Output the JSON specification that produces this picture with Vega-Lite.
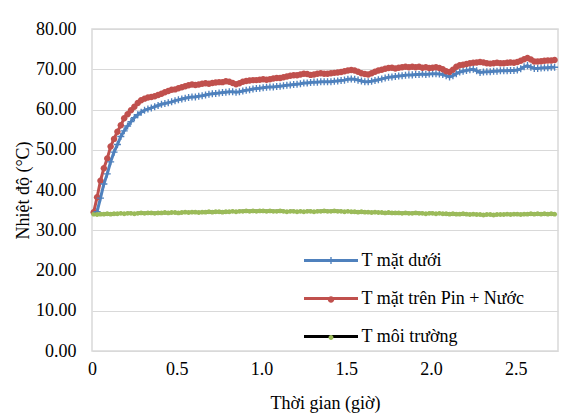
{
  "$schema": "https://vega.github.io/schema/vega-lite/v6.json",
  "width": 466,
  "height": 322,
  "autosize": "none",
  "padding": {"left": 92, "top": 29, "right": 28, "bottom": 66},
  "background": "white",
  "config": {
    "font": "Liberation Serif",
    "view": {"stroke": "#D9D9D9", "strokeWidth": 1.5},
    "axis": {
      "labelFont": "Liberation Serif",
      "titleFont": "Liberation Serif",
      "labelFontSize": 18,
      "titleFontSize": 18,
      "labelColor": "#000000",
      "titleColor": "#000000",
      "titleFontWeight": "normal",
      "labelFlush": false,
      "domain": false,
      "ticks": false,
      "gridColor": "#D9D9D9",
      "gridWidth": 1.2
    },
    "legend": {
      "labelFont": "Liberation Serif",
      "labelFontSize": 18,
      "labelColor": "#000000",
      "labelLimit": 400
    }
  },
  "data": {
    "values": [
      {"t":0.01,"a":null,"b":34.5,"c":34.0},
      {"t":0.03,"a":34.6,"b":38.2,"c":33.9},
      {"t":0.05,"a":38.0,"b":42.3,"c":34.0},
      {"t":0.07,"a":41.5,"b":45.4,"c":34.0},
      {"t":0.09,"a":44.0,"b":47.8,"c":34.1},
      {"t":0.11,"a":47.0,"b":50.8,"c":34.0},
      {"t":0.13,"a":49.4,"b":52.7,"c":34.1},
      {"t":0.15,"a":51.3,"b":54.5,"c":34.1},
      {"t":0.17,"a":53.3,"b":56.1,"c":34.2},
      {"t":0.19,"a":54.7,"b":57.8,"c":34.1},
      {"t":0.21,"a":55.9,"b":58.8,"c":34.2},
      {"t":0.23,"a":57.0,"b":59.8,"c":34.2},
      {"t":0.25,"a":58.0,"b":60.7,"c":34.1},
      {"t":0.27,"a":58.7,"b":61.6,"c":34.2},
      {"t":0.29,"a":59.3,"b":62.3,"c":34.3},
      {"t":0.31,"a":59.8,"b":62.7,"c":34.2},
      {"t":0.33,"a":60.1,"b":63.0,"c":34.3},
      {"t":0.35,"a":60.4,"b":63.1,"c":34.3},
      {"t":0.37,"a":60.7,"b":63.3,"c":34.2},
      {"t":0.39,"a":61.0,"b":63.6,"c":34.3},
      {"t":0.41,"a":61.3,"b":63.9,"c":34.3},
      {"t":0.43,"a":61.5,"b":64.3,"c":34.4},
      {"t":0.45,"a":61.7,"b":64.6,"c":34.3},
      {"t":0.47,"a":61.9,"b":64.9,"c":34.4},
      {"t":0.49,"a":62.2,"b":65.0,"c":34.4},
      {"t":0.51,"a":62.4,"b":65.3,"c":34.3},
      {"t":0.53,"a":62.6,"b":65.5,"c":34.4},
      {"t":0.55,"a":62.8,"b":65.8,"c":34.5},
      {"t":0.57,"a":63.0,"b":66.0,"c":34.4},
      {"t":0.59,"a":63.1,"b":66.2,"c":34.5},
      {"t":0.61,"a":63.1,"b":66.1,"c":34.5},
      {"t":0.63,"a":63.3,"b":66.2,"c":34.4},
      {"t":0.65,"a":63.4,"b":66.4,"c":34.5},
      {"t":0.67,"a":63.6,"b":66.5,"c":34.5},
      {"t":0.69,"a":63.8,"b":66.4,"c":34.6},
      {"t":0.71,"a":63.9,"b":66.6,"c":34.5},
      {"t":0.73,"a":64.0,"b":66.7,"c":34.6},
      {"t":0.75,"a":64.1,"b":66.8,"c":34.6},
      {"t":0.77,"a":64.2,"b":66.8,"c":34.5},
      {"t":0.79,"a":64.3,"b":67.0,"c":34.6},
      {"t":0.81,"a":64.4,"b":66.9,"c":34.6},
      {"t":0.83,"a":64.4,"b":66.6,"c":34.7},
      {"t":0.85,"a":64.3,"b":66.3,"c":34.6},
      {"t":0.87,"a":64.4,"b":66.5,"c":34.7},
      {"t":0.89,"a":64.6,"b":66.9,"c":34.7},
      {"t":0.91,"a":64.8,"b":67.1,"c":34.8},
      {"t":0.93,"a":64.9,"b":67.2,"c":34.7},
      {"t":0.95,"a":65.1,"b":67.3,"c":34.8},
      {"t":0.97,"a":65.2,"b":67.3,"c":34.7},
      {"t":0.99,"a":65.3,"b":67.4,"c":34.8},
      {"t":1.01,"a":65.4,"b":67.5,"c":34.8},
      {"t":1.03,"a":65.5,"b":67.4,"c":34.7},
      {"t":1.05,"a":65.6,"b":67.5,"c":34.8},
      {"t":1.07,"a":65.6,"b":67.7,"c":34.7},
      {"t":1.09,"a":65.7,"b":67.8,"c":34.7},
      {"t":1.11,"a":65.8,"b":67.8,"c":34.8},
      {"t":1.13,"a":65.9,"b":68.0,"c":34.7},
      {"t":1.15,"a":66.0,"b":68.2,"c":34.6},
      {"t":1.17,"a":66.1,"b":68.4,"c":34.7},
      {"t":1.19,"a":66.2,"b":68.5,"c":34.7},
      {"t":1.21,"a":66.3,"b":68.5,"c":34.6},
      {"t":1.23,"a":66.4,"b":68.7,"c":34.7},
      {"t":1.25,"a":66.6,"b":68.9,"c":34.6},
      {"t":1.27,"a":66.6,"b":68.8,"c":34.7},
      {"t":1.29,"a":66.7,"b":68.6,"c":34.7},
      {"t":1.31,"a":66.8,"b":68.7,"c":34.6},
      {"t":1.33,"a":66.8,"b":68.9,"c":34.7},
      {"t":1.35,"a":66.9,"b":69.0,"c":34.7},
      {"t":1.37,"a":66.9,"b":68.9,"c":34.8},
      {"t":1.39,"a":66.9,"b":68.9,"c":34.7},
      {"t":1.41,"a":66.9,"b":69.0,"c":34.7},
      {"t":1.43,"a":67.0,"b":69.1,"c":34.8},
      {"t":1.45,"a":67.1,"b":69.2,"c":34.7},
      {"t":1.47,"a":67.2,"b":69.3,"c":34.7},
      {"t":1.49,"a":67.3,"b":69.5,"c":34.6},
      {"t":1.51,"a":67.5,"b":69.7,"c":34.7},
      {"t":1.53,"a":67.6,"b":69.8,"c":34.6},
      {"t":1.55,"a":67.5,"b":69.7,"c":34.6},
      {"t":1.57,"a":67.3,"b":69.4,"c":34.5},
      {"t":1.59,"a":67.1,"b":69.0,"c":34.6},
      {"t":1.61,"a":66.9,"b":68.8,"c":34.5},
      {"t":1.63,"a":66.9,"b":68.7,"c":34.5},
      {"t":1.65,"a":67.0,"b":69.0,"c":34.4},
      {"t":1.67,"a":67.2,"b":69.4,"c":34.5},
      {"t":1.69,"a":67.4,"b":69.7,"c":34.4},
      {"t":1.71,"a":67.6,"b":69.9,"c":34.4},
      {"t":1.73,"a":67.8,"b":70.1,"c":34.3},
      {"t":1.75,"a":68.0,"b":70.3,"c":34.4},
      {"t":1.77,"a":68.1,"b":70.4,"c":34.3},
      {"t":1.79,"a":68.2,"b":70.2,"c":34.3},
      {"t":1.81,"a":68.3,"b":70.4,"c":34.3},
      {"t":1.83,"a":68.4,"b":70.5,"c":34.2},
      {"t":1.85,"a":68.5,"b":70.6,"c":34.3},
      {"t":1.87,"a":68.6,"b":70.5,"c":34.2},
      {"t":1.89,"a":68.6,"b":70.6,"c":34.2},
      {"t":1.91,"a":68.7,"b":70.5,"c":34.3},
      {"t":1.93,"a":68.7,"b":70.6,"c":34.2},
      {"t":1.95,"a":68.8,"b":70.4,"c":34.2},
      {"t":1.97,"a":68.7,"b":70.5,"c":34.1},
      {"t":1.99,"a":68.8,"b":70.3,"c":34.2},
      {"t":2.01,"a":68.9,"b":70.4,"c":34.2},
      {"t":2.03,"a":68.9,"b":70.5,"c":34.1},
      {"t":2.05,"a":68.8,"b":70.3,"c":34.2},
      {"t":2.07,"a":68.7,"b":70.0,"c":34.1},
      {"t":2.09,"a":68.4,"b":69.5,"c":34.1},
      {"t":2.11,"a":68.1,"b":69.3,"c":34.0},
      {"t":2.13,"a":68.4,"b":69.9,"c":34.1},
      {"t":2.15,"a":68.9,"b":70.6,"c":34.0},
      {"t":2.17,"a":69.3,"b":71.0,"c":34.0},
      {"t":2.19,"a":69.5,"b":71.1,"c":34.1},
      {"t":2.21,"a":69.7,"b":71.3,"c":34.0},
      {"t":2.23,"a":69.9,"b":71.5,"c":33.9},
      {"t":2.25,"a":70.0,"b":71.6,"c":34.0},
      {"t":2.27,"a":69.6,"b":71.7,"c":33.9},
      {"t":2.29,"a":69.2,"b":71.8,"c":33.9},
      {"t":2.31,"a":69.3,"b":71.7,"c":33.8},
      {"t":2.33,"a":69.4,"b":71.5,"c":33.9},
      {"t":2.35,"a":69.4,"b":71.4,"c":33.9},
      {"t":2.37,"a":69.5,"b":71.5,"c":33.8},
      {"t":2.39,"a":69.5,"b":71.6,"c":33.9},
      {"t":2.41,"a":69.6,"b":71.5,"c":33.9},
      {"t":2.43,"a":69.6,"b":71.5,"c":33.9},
      {"t":2.45,"a":69.6,"b":71.6,"c":34.0},
      {"t":2.47,"a":69.7,"b":71.7,"c":33.9},
      {"t":2.49,"a":69.7,"b":71.6,"c":34.0},
      {"t":2.51,"a":69.8,"b":71.8,"c":34.0},
      {"t":2.53,"a":70.1,"b":72.1,"c":33.9},
      {"t":2.55,"a":70.6,"b":72.5,"c":34.0},
      {"t":2.57,"a":70.9,"b":72.8,"c":34.0},
      {"t":2.59,"a":70.5,"b":72.4,"c":34.1},
      {"t":2.61,"a":70.2,"b":71.9,"c":34.0},
      {"t":2.63,"a":70.2,"b":71.9,"c":34.1},
      {"t":2.65,"a":70.3,"b":72.0,"c":34.0},
      {"t":2.67,"a":70.4,"b":72.1,"c":34.1},
      {"t":2.69,"a":70.4,"b":72.2,"c":34.0},
      {"t":2.71,"a":70.5,"b":72.2,"c":34.1},
      {"t":2.73,"a":70.5,"b":72.3,"c":34.0}
    ]
  },
  "transform": [
    {"fold": ["a", "b", "c"], "as": ["key", "value"]},
    {"filter": "isValid(datum.value)"}
  ],
  "encoding": {
    "x": {
      "field": "t",
      "type": "quantitative",
      "scale": {"domain": [0, 2.75], "nice": false, "zero": false},
      "axis": {
        "title": "Thời gian (giờ)",
        "values": [0, 0.5, 1, 1.5, 2, 2.5],
        "labelExpr": "datum.value == 0 ? '0' : format(datum.value, '.1f')",
        "grid": false,
        "labelPadding": 9,
        "titlePadding": 16
      }
    },
    "y": {
      "field": "value",
      "type": "quantitative",
      "scale": {"domain": [0, 80], "nice": false},
      "axis": {
        "title": "Nhiệt độ (°C)",
        "values": [0, 10, 20, 30, 40, 50, 60, 70, 80],
        "format": ".2f",
        "grid": true,
        "labelPadding": 16,
        "titlePadding": 3
      }
    }
  },
  "layer": [
    {
      "mark": {"type": "line", "strokeWidth": 3},
      "encoding": {
        "stroke": {
          "field": "key",
          "type": "nominal",
          "scale": {"domain": ["a", "b", "c"], "range": ["#4F81BD", "#C0504D", "#000000"]},
          "legend": {
            "title": null,
            "orient": "none",
            "legendX": 210.5,
            "legendY": 203,
            "padding": 0,
            "rowPadding": -1.5,
            "symbolType": "M-1,0H1",
            "symbolSize": 2916,
            "symbolStrokeWidth": 3,
            "labelOffset": 2,
            "labelExpr": "datum.value == 'a' ? 'T mặt dưới' : datum.value == 'b' ? 'T mặt trên Pin + Nước' : 'T môi trường'"
          }
        }
      }
    },
    {
      "mark": {"type": "point", "filled": true, "size": 2916, "opacity": 1},
      "encoding": {
        "fill": {
          "field": "key",
          "type": "nominal",
          "scale": {"range": ["#4F81BD", "#C0504D", "#9BBB59"]},
          "legend": {
            "title": null,
            "orient": "none",
            "legendX": 210.5,
            "legendY": 203,
            "padding": 0,
            "rowPadding": -1.5,
            "symbolSize": 2916,
            "symbolStrokeWidth": 3,
            "symbolStrokeColor": "transparent",
            "labelOffset": 2,
            "labelOpacity": 0,
            "labelExpr": "datum.value == 'a' ? 'T mặt dưới' : datum.value == 'b' ? 'T mặt trên Pin + Nước' : 'T môi trường'"
          }
        },
        "shape": {
          "field": "key",
          "type": "nominal",
          "scale": {"range": [
            "M-0.13,-0.025H-0.025V-0.13H0.025V-0.025H0.13V0.025H0.025V0.13H-0.025V0.025H-0.13Z",
            "M-0.12,0A0.12,0.12 0 1,0 0.12,0A0.12,0.12 0 1,0 -0.12,0Z",
            "M-0.09,0A0.09,0.09 0 1,0 0.09,0A0.09,0.09 0 1,0 -0.09,0Z"
          ]},
          "legend": {
            "title": null,
            "orient": "none",
            "legendX": 210.5,
            "legendY": 203,
            "padding": 0,
            "rowPadding": -1.5,
            "symbolSize": 2916,
            "symbolStrokeWidth": 3,
            "labelOffset": 2,
            "labelOpacity": 0,
            "labelExpr": "datum.value == 'a' ? 'T mặt dưới' : datum.value == 'b' ? 'T mặt trên Pin + Nước' : 'T môi trường'"
          }
        }
      }
    }
  ]
}
